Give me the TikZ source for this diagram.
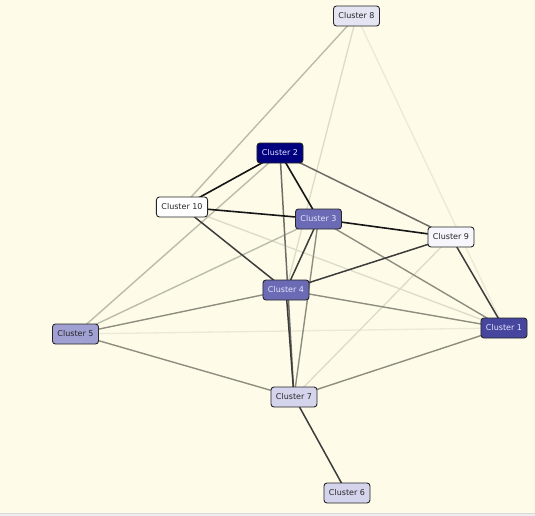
\documentclass[tikz,border=0pt]{standalone}
\usepackage{fontspec}
\setmainfont{DejaVu Sans}
\usetikzlibrary{backgrounds}
\definecolor{bgc}{HTML}{FEFBE9}
\definecolor{cA}{HTML}{151515}
\definecolor{cB}{HTML}{3C3C3C}
\definecolor{cC}{HTML}{6E6E66}
\definecolor{cD}{HTML}{8E8E80}
\definecolor{cE}{HTML}{BCBCAA}
\definecolor{cF}{HTML}{DCDCC8}
\definecolor{cG}{HTML}{ECEAD6}
\definecolor{f2}{HTML}{00007F}
\definecolor{f3}{HTML}{6B6BB5}
\definecolor{f1}{HTML}{46469F}
\definecolor{f5}{HTML}{A0A0D2}
\definecolor{f7}{HTML}{D4D4EC}
\definecolor{f8}{HTML}{E4E4F2}
\definecolor{f9}{HTML}{F6F6FC}
\tikzset{
  clu/.style={draw=black!85, line width=0.9pt, rounded corners=3pt, inner xsep=5pt,
    minimum height=20pt, font=\fontsize{8}{9}\selectfont, text=black!85},
  dk/.style={clu, text=white!90!blue},
  eA/.style={draw=cA, line width=1.6pt},
  eB/.style={draw=cB, line width=1.5pt},
  eC/.style={draw=cC, line width=1.5pt},
  eD/.style={draw=cD, line width=1.4pt},
  eE/.style={draw=cE, line width=1.4pt},
  eF/.style={draw=cF, line width=1.3pt},
  eG/.style={draw=cG, line width=1.3pt},
}
\begin{document}
\begin{tikzpicture}[x=1pt,y=-1pt]
\useasboundingbox (0,0) rectangle (535,516);
\fill[black!7] (0,513) rectangle (535,516);
\draw[black!15, line width=0.8pt] (0,513) -- (535,513);

\node[clu, fill=f8] (n8) at (356.5,16) {Cluster 8};
\node[dk, fill=f2] (n2) at (280,153) {Cluster 2};
\node[clu, fill=white] (n10) at (182,207) {Cluster 10};
\node[dk, fill=f3] (n3) at (318.5,219) {Cluster 3};
\node[clu, fill=f9] (n9) at (451,237) {Cluster 9};
\node[dk, fill=f3] (n4) at (286,290) {Cluster 4};
\node[clu, fill=f5] (n5) at (75.5,334) {Cluster 5};
\node[dk, fill=f1] (n1) at (504,328) {Cluster 1};
\node[clu, fill=f7] (n7) at (294,397) {Cluster 7};
\node[clu, fill=f7] (n6) at (347,493) {Cluster 6};

\begin{scope}[on background layer]
\fill[bgc] (0,0) rectangle (535,512.5);
\draw[eG] (n5.center) -- (n1.center);
\draw[eG] (n8.center) -- (n1.center);
\draw[eF] (n8.center) -- (n4.center);
\draw[eF] (n10.center) -- (n1.center);
\draw[eF] (n9.center) -- (n7.center);
\draw[eE] (n8.center) -- (n10.center);
\draw[eE] (n5.center) -- (n2.center);
\draw[eE] (n5.center) -- (n3.center);
\draw[eD] (n4.center) -- (n5.center);
\draw[eD] (n4.center) -- (n1.center);
\draw[eD] (n3.center) -- (n1.center);
\draw[eD] (n5.center) -- (n7.center);
\draw[eD] (n7.center) -- (n1.center);
\draw[eD] (n3.center) -- (n7.center);
\draw[eC] (n2.center) -- (n9.center);
\draw[eC] (n2.center) -- (n7.center);
\draw[eB] (n10.center) -- (n4.center);
\draw[eB] (n3.center) -- (n4.center);
\draw[eB] (n4.center) -- (n9.center);
\draw[eB] (n9.center) -- (n1.center);
\draw[eB] (n7.center) -- (n6.center);
\draw[eB] (n4.center) -- (n7.center);
\draw[eA] (n2.center) -- (n10.center);
\draw[eA] (n2.center) -- (n3.center);
\draw[eA] (n10.center) -- (n3.center);
\draw[eA] (n3.center) -- (n9.center);
\end{scope}
\end{tikzpicture}
\end{document}
